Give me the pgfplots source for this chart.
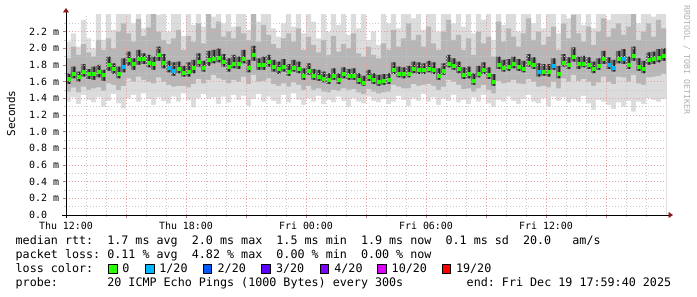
\documentclass[border=0pt]{standalone}
\usepackage{fontspec}
\setmainfont{DejaVu Sans Mono}
\usepackage{pgfplots}
\pgfplotsset{compat=1.18}
\usepackage{pgfplotstable}
\usetikzlibrary{arrows.meta}
\frenchspacing
\definecolor{lc0}{HTML}{26FF00}
\definecolor{lc1}{HTML}{00B8FF}
\definecolor{lc2}{HTML}{0059FF}
\definecolor{lc3}{HTML}{5E00FF}
\definecolor{lc4}{HTML}{7E00FF}
\definecolor{lc10}{HTML}{DD00FF}
\definecolor{lc19}{HTML}{FF0000}
\definecolor{s1}{HTML}{DCDCDC}
\definecolor{s2}{HTML}{B6B6B6}
\definecolor{s3}{HTML}{707070}
\definecolor{s4}{HTML}{242424}
\definecolor{majgrid}{HTML}{E8A0A0}
\definecolor{mingrid}{HTML}{C8C8C8}
\definecolor{arrowred}{HTML}{8B1C1C}
\definecolor{credit}{HTML}{B0B0B0}
\newcommand\legfont{\fontsize{11.75}{14}\selectfont}

\pgfplotstableread{
t med lo1 lo2 lo3 hi3 hi2 hi1 cls
0.125 1.63 1.36 1.48 1.57 1.70 1.88 2.08 g
0.375 1.70 1.41 1.53 1.64 1.78 2.02 2.18 g
0.625 1.66 1.33 1.47 1.60 1.72 1.92 2.02 g
0.875 1.72 1.44 1.54 1.66 1.81 2.05 2.34 g
1.125 1.69 1.38 1.50 1.63 1.75 1.95 2.12 g
1.375 1.69 1.35 1.52 1.62 1.78 1.90 2.00 g
1.625 1.72 1.41 1.53 1.65 1.80 2.10 2.45 g
1.875 1.68 1.30 1.49 1.61 1.74 1.98 2.10 g
2.125 1.80 1.37 1.58 1.73 1.90 2.12 2.45 g
2.375 1.75 1.45 1.56 1.69 1.82 2.00 2.22 g
2.625 1.70 1.34 1.50 1.64 1.78 2.20 2.45 g
2.875 1.78 1.28 1.55 1.71 1.88 2.30 2.45 c
3.125 1.86 1.40 1.64 1.79 1.96 2.18 2.45 g
3.375 1.81 1.44 1.60 1.74 1.88 2.08 2.30 g
3.625 1.87 1.36 1.66 1.80 1.98 2.35 2.45 g
3.875 1.87 1.46 1.62 1.81 1.94 2.15 2.24 g
4.125 1.83 1.39 1.60 1.77 1.92 2.25 2.45 g
4.375 1.81 1.32 1.58 1.74 1.90 2.45 2.45 g
4.625 1.92 1.41 1.65 1.85 2.02 2.20 2.40 g
4.875 1.83 1.37 1.60 1.76 1.93 2.10 2.45 g
5.125 1.77 1.34 1.56 1.71 1.85 2.05 2.20 c
5.375 1.73 1.42 1.54 1.67 1.83 2.12 2.45 c
5.625 1.76 1.36 1.55 1.70 1.84 2.22 2.45 g
5.875 1.71 1.46 1.55 1.66 1.79 1.98 2.15 g
6.125 1.72 1.38 1.53 1.66 1.83 2.15 2.45 g
6.375 1.77 1.29 1.57 1.70 1.86 2.08 2.28 g
6.625 1.84 1.40 1.63 1.78 1.94 2.30 2.45 g
6.875 1.77 1.45 1.58 1.72 1.85 2.06 2.26 g
7.125 1.86 1.39 1.62 1.79 1.97 2.45 2.45 g
7.375 1.88 1.41 1.68 1.82 1.98 2.24 2.38 g
7.625 1.89 1.33 1.64 1.83 2.00 2.32 2.45 g
7.875 1.84 1.42 1.62 1.78 1.93 2.14 2.30 g
8.125 1.78 1.35 1.58 1.72 1.88 2.20 2.45 g
8.375 1.82 1.44 1.62 1.76 1.92 2.12 2.26 g
8.625 1.81 1.38 1.60 1.75 1.90 2.26 2.45 g
8.875 1.88 1.43 1.66 1.82 1.98 2.18 2.45 g
9.125 1.77 1.31 1.57 1.71 1.86 2.10 2.22 g
9.375 1.92 1.39 1.68 1.85 2.03 2.45 2.45 g
9.625 1.80 1.45 1.60 1.74 1.88 2.08 2.32 g
9.875 1.80 1.36 1.61 1.74 1.90 2.28 2.45 g
10.125 1.84 1.42 1.64 1.78 1.92 2.16 2.45 g
10.375 1.78 1.37 1.57 1.72 1.86 2.05 2.24 g
10.625 1.75 1.33 1.55 1.69 1.84 2.00 2.14 g
10.875 1.78 1.44 1.58 1.72 1.87 2.12 2.30 g
11.125 1.72 1.35 1.54 1.67 1.81 2.18 2.45 g
11.375 1.77 1.46 1.59 1.72 1.86 2.08 2.26 g
11.625 1.76 1.38 1.56 1.70 1.84 2.24 2.45 g
11.875 1.67 1.32 1.50 1.62 1.76 1.98 2.18 g
12.125 1.73 1.40 1.55 1.68 1.82 2.14 2.45 g
12.375 1.67 1.36 1.50 1.62 1.75 2.04 2.32 g
12.625 1.66 1.43 1.52 1.61 1.74 1.95 2.12 g
12.875 1.64 1.33 1.48 1.59 1.72 2.10 2.45 g
13.125 1.62 1.38 1.47 1.57 1.70 1.92 2.20 g
13.375 1.67 1.35 1.50 1.62 1.76 2.15 2.45 g
13.625 1.62 1.42 1.49 1.57 1.70 1.96 2.28 g
13.875 1.69 1.37 1.52 1.64 1.77 2.05 2.45 g
14.125 1.67 1.30 1.50 1.62 1.75 2.00 2.16 g
14.375 1.67 1.40 1.51 1.62 1.76 2.18 2.45 g
14.625 1.62 1.36 1.47 1.57 1.70 1.94 2.24 g
14.875 1.59 1.34 1.45 1.55 1.67 1.90 2.45 g
15.125 1.66 1.42 1.51 1.61 1.74 2.02 2.10 g
15.375 1.62 1.37 1.48 1.57 1.70 1.92 2.20 g
15.625 1.60 1.35 1.46 1.55 1.68 1.88 2.04 g
15.875 1.61 1.39 1.47 1.56 1.69 2.06 2.45 g
16.125 1.62 1.33 1.48 1.57 1.70 1.98 2.30 g
16.375 1.74 1.36 1.56 1.69 1.83 2.22 2.45 g
16.625 1.70 1.43 1.54 1.65 1.78 2.02 2.24 g
16.875 1.69 1.38 1.52 1.64 1.77 2.12 2.45 g
17.125 1.70 1.31 1.52 1.65 1.79 2.30 2.45 g
17.375 1.75 1.40 1.57 1.70 1.84 2.10 2.36 g
17.625 1.74 1.37 1.55 1.69 1.83 2.16 2.45 g
17.875 1.74 1.45 1.56 1.69 1.82 2.02 2.22 g
18.125 1.76 1.36 1.57 1.71 1.85 2.26 2.45 g
18.375 1.74 1.41 1.55 1.69 1.83 2.06 2.45 g
18.625 1.67 1.32 1.50 1.62 1.76 1.98 2.20 g
18.875 1.73 1.40 1.54 1.68 1.82 2.20 2.45 g
19.125 1.82 1.37 1.62 1.77 1.92 2.34 2.45 g
19.375 1.79 1.44 1.60 1.74 1.88 2.10 2.30 g
19.625 1.75 1.35 1.56 1.70 1.84 2.16 2.45 g
19.875 1.68 1.38 1.51 1.63 1.77 1.98 2.26 g
20.125 1.69 1.33 1.52 1.64 1.78 2.12 2.45 g
20.375 1.61 1.41 1.48 1.56 1.70 1.92 2.18 g
20.625 1.70 1.36 1.52 1.65 1.79 2.20 2.45 g
20.875 1.74 1.44 1.56 1.69 1.83 2.06 2.34 g
21.125 1.68 1.34 1.50 1.63 1.77 2.14 2.45 g
21.375 1.60 1.30 1.46 1.55 1.69 1.90 2.10 g
21.625 1.80 1.38 1.61 1.75 1.90 2.32 2.45 g
21.875 1.77 1.36 1.58 1.72 1.86 2.08 2.28 g
22.125 1.78 1.42 1.59 1.73 1.87 2.24 2.45 g
22.375 1.81 1.37 1.62 1.76 1.90 2.14 2.45 g
22.625 1.78 1.33 1.58 1.73 1.87 2.02 2.20 g
22.875 1.76 1.39 1.57 1.71 1.85 2.18 2.45 g
23.125 1.83 1.44 1.63 1.78 1.93 2.36 2.45 g
23.375 1.80 1.36 1.60 1.75 1.89 2.10 2.30 g
23.625 1.72 1.34 1.54 1.66 1.82 2.20 2.45 c
23.875 1.72 1.40 1.55 1.67 1.81 2.04 2.24 g
24.125 1.72 1.30 1.53 1.66 1.81 2.14 2.45 g
24.375 1.79 1.42 1.60 1.74 1.88 2.26 2.45 c
24.625 1.70 1.37 1.52 1.64 1.79 1.98 2.18 g
24.875 1.83 1.41 1.64 1.78 1.93 2.30 2.45 g
25.125 1.80 1.35 1.60 1.75 1.89 2.12 2.36 g
25.375 1.90 1.39 1.68 1.84 2.01 2.40 2.45 g
25.625 1.81 1.36 1.61 1.75 1.90 2.18 2.45 g
25.875 1.82 1.43 1.63 1.77 1.91 2.08 2.28 g
26.125 1.80 1.34 1.60 1.75 1.89 2.26 2.45 g
26.375 1.75 1.26 1.55 1.70 1.84 2.04 2.24 g
26.625 1.79 1.38 1.59 1.74 1.88 2.20 2.45 g
26.875 1.87 1.36 1.66 1.81 1.97 2.36 2.45 g
27.125 1.80 1.32 1.60 1.75 1.89 2.14 2.34 c
27.375 1.77 1.27 1.57 1.72 1.86 2.24 2.45 c
27.625 1.87 1.35 1.66 1.82 1.97 2.30 2.45 g
27.875 1.88 1.30 1.65 1.81 1.99 2.16 2.45 c
28.125 1.80 1.37 1.60 1.75 1.90 2.26 2.45 g
28.375 1.91 1.24 1.68 1.85 2.02 2.45 2.45 g
28.625 1.78 1.36 1.58 1.73 1.88 2.10 2.30 g
28.875 1.75 1.33 1.56 1.70 1.85 2.20 2.45 g
29.125 1.86 1.40 1.65 1.80 1.95 2.30 2.45 g
29.375 1.87 1.38 1.66 1.81 1.96 2.14 2.38 g
29.625 1.89 1.36 1.67 1.83 1.99 2.34 2.45 g
29.875 1.91 1.39 1.69 1.85 2.00 2.24 2.45 g
}\smoke

\begin{document}
\begin{tikzpicture}
\useasboundingbox (0bp,0bp) rectangle (697bp,297bp);
\begin{axis}[
  at={(66bp,82bp)}, anchor=south west,
  scale only axis, width=600bp, height=200bp,
  xmin=0, xmax=30, ymin=0, ymax=2.4,
  axis lines=left,
  axis on top,
  clip=true,
  xtick={0,3,6,9,12,15,18,21,24,27},
  xticklabels={Thu 12:00,,Thu 18:00,,Fri 00:00,,Fri 06:00,,Fri 12:00,},
  minor xtick={1,2,4,5,7,8,10,11,13,14,16,17,19,20,22,23,25,26,28,29},
  ytick={0,0.2,0.4,0.6,0.8,1.0,1.2,1.4,1.6,1.8,2.0,2.2},
  yticklabels={0.0,0.2 m,0.4 m,0.6 m,0.8 m,1.0 m,1.2 m,1.4 m,1.6 m,1.8 m,2.0 m,2.2 m},
  minor ytick={0.1,0.3,0.5,0.7,0.9,1.1,1.3,1.5,1.7,1.9,2.1,2.3},
  grid=both,
  major grid style={draw=majgrid, dash pattern=on 1bp off 2bp, line width=0.7bp},
  minor grid style={draw=mingrid, dash pattern=on 1bp off 2bp, line width=0.7bp},
  tick align=outside,
  major tick length=3bp, minor tick length=2bp,
  major tick style={draw=majgrid!80!black, line width=0.6bp},
  minor tick style={draw=mingrid, line width=0.6bp},
  ticklabel style={font=\fontsize{10}{12}\selectfont},
  xticklabel style={anchor=north, inner sep=0pt, yshift=-4bp},
  yticklabel style={anchor=west, inner sep=0pt, xshift=-34bp},
  axis line style={draw=black, line width=0.8bp},
  x axis line style={-{Triangle[length=4.5bp,width=6bp,color=arrowred]}, shorten >=-7bp, shorten <=-4bp},
  y axis line style={-{Triangle[length=4.5bp,width=6bp,color=arrowred]}, shorten >=-7bp, shorten <=-3bp},
]
\addplot[ybar, bar width=0.27, bar shift=0pt, fill=s1, draw=none, forget plot] table[x=t, y=hi1] {\smoke};
\addplot[ybar, bar width=0.27, bar shift=0pt, fill=s2, draw=none, forget plot] table[x=t, y=hi2] {\smoke};
\addplot[ybar, bar width=0.27, bar shift=0pt, fill=s3, draw=none, forget plot] table[x=t, y=hi3] {\smoke};
\addplot[ybar, bar width=0.08, bar shift=0.03, fill=s4, draw=none, forget plot] table[x=t, y=hi3] {\smoke};
\addplot[ybar, bar width=0.27, bar shift=0pt, fill=s2, draw=none, forget plot] table[x=t, y=lo3] {\smoke};
\addplot[ybar, bar width=0.27, bar shift=0pt, fill=s1, draw=none, forget plot] table[x=t, y=lo2] {\smoke};
\addplot[ybar, bar width=0.27, bar shift=0pt, fill=white, draw=none, forget plot] table[x=t, y=lo1] {\smoke};
\addplot[scatter, only marks, scatter src=explicit symbolic,
  scatter/use mapped color={draw=lc0, fill=lc0},
  scatter/classes={g={mark=square*, draw=lc0, fill=lc0}, c={mark=square*, draw=lc1, fill=lc1}},
  mark size=1.5bp] table[x=t, y=med, meta=cls] {\smoke};
\end{axis}
% axis description texts
\node[rotate=90, anchor=base, inner sep=0pt, font=\fontsize{11}{13}\selectfont] at (15bp,183.5bp) {Seconds};
\node[rotate=-90, anchor=base west, inner sep=0pt, text=credit, font=\fontsize{8.3}{10}\selectfont] at (684bp,292bp) {RRDTOOL / TOBI OETIKER};
% legend lines
\node[anchor=base west, inner sep=0pt, font=\legfont] at (15.5bp,52bp) {median rtt:~~1.7 ms avg~~2.0 ms max~~1.5 ms min~~1.9 ms now~~0.1 ms sd~~20.0~~~am/s};
\node[anchor=base west, inner sep=0pt, font=\legfont] at (15.5bp,38.3bp) {packet loss: 0.11 \% avg~~4.82 \% max~~0.00 \% min~~0.00 \% now};
\node[anchor=base west, inner sep=0pt, font=\legfont] at (15.5bp,24.5bp) {loss color:};
\foreach \bx/\tx/\col/\lab in {108.5/123/lc0/0, 145.8/160/lc1/1\slash 20, 203.3/218.3/lc2/2\slash 20, 261.7/276.7/lc3/3\slash 20, 320.2/335/lc4/4\slash 20, 377.7/392.3/lc10/10\slash 20, 442.3/456.7/lc19/19\slash 20}{
  \pgfmathsetmacro\bxe{\bx+8.4}
  \pgfmathsetmacro\txs{\tx-0.8}
  \filldraw[fill=\col, draw=black, line width=0.8bp] (\bx bp,23.9bp) rectangle (\bxe bp,32.4bp);
  \node[anchor=base west, inner sep=0pt, font=\legfont] at (\txs bp,24.5bp) {\lab};
}
\node[anchor=base west, inner sep=0pt, font=\legfont] at (15.5bp,10.7bp) {probe:~~~~~~~20 ICMP Echo Pings (1000 Bytes) every 300s~~~~~~~~~end: Fri Dec 19 17:59:40 2025};
\end{tikzpicture}
\end{document}
